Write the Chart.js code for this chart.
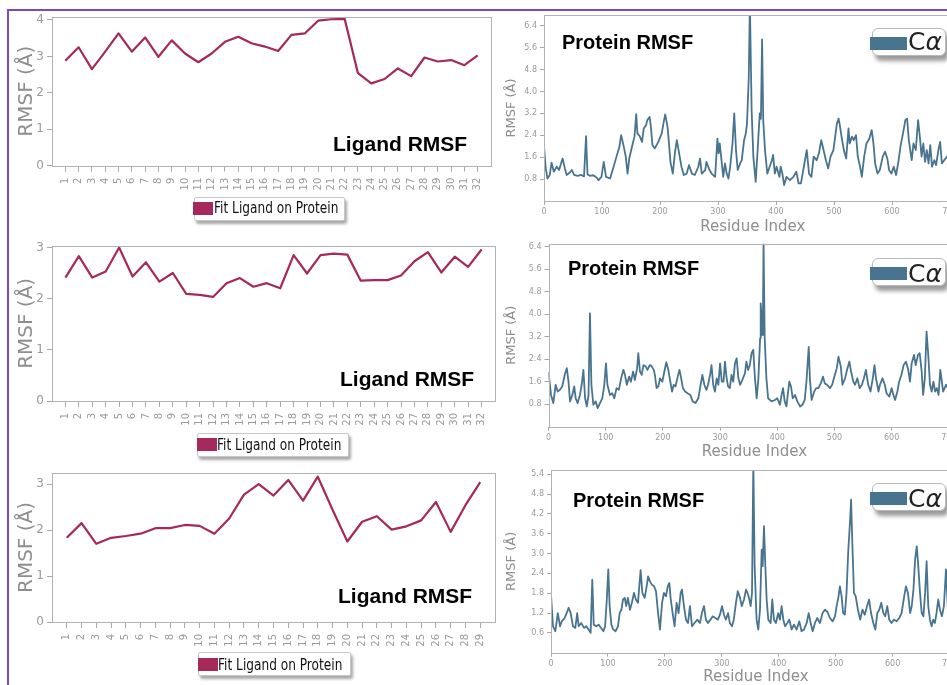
<!DOCTYPE html>
<html>
<head>
<meta charset="utf-8">
<script src="https://cdn.jsdelivr.net/npm/chart.js@4.4.1/dist/chart.umd.min.js"></script>
<style>
  html, body { margin: 0; padding: 0; background: #fff; }
  body { position: relative; width: 947px; height: 685px; overflow: hidden; font-family: "DejaVu Sans", sans-serif; }
  canvas { position: absolute; }
  .rule { position: absolute; background: #7d48c8; }
  .tag { position: absolute; font-family: "Liberation Sans", Arial, sans-serif; font-weight: bold; color: #000; white-space: nowrap; line-height: 1; }
  .ligBox { position: absolute; height: 22px; background: #fff; border: 1px solid #c8c8c8; border-radius: 2px; box-shadow: 2px 3px 3px rgba(0,0,0,0.35); }
  .ligSw { position: absolute; width: 20px; height: 13px; background: #a5295a; }
  .ligTx { position: absolute; font-size: 16px; line-height: 1; color: #111; white-space: nowrap; transform: scaleX(0.76); transform-origin: 0 0; }
  .caBox { position: absolute; width: 72px; height: 26px; background: #fff; border: 1px solid #b8b8b8; border-radius: 6px; box-shadow: 3px 5px 4px rgba(0,0,0,0.4); }
  .caSw { position: absolute; width: 37px; height: 13px; background: #48748f; }
  .caTx { position: absolute; font-size: 25px; line-height: 1; color: #222; white-space: nowrap; }
</style>
</head>
<body>
<div class="rule" style="left:7px;top:9px;width:940px;height:2px"></div>
<div class="rule" style="left:7px;top:9px;width:2px;height:676px"></div>

<canvas id="lig1"></canvas>
<canvas id="lig2"></canvas>
<canvas id="lig3"></canvas>
<canvas id="pro1"></canvas>
<canvas id="pro2"></canvas>
<canvas id="pro3"></canvas>

<div class="tag" style="left:333px;top:133px;font-size:21px">Ligand RMSF</div>
<div class="tag" style="left:340px;top:368px;font-size:21px">Ligand RMSF</div>
<div class="tag" style="left:338px;top:585px;font-size:21px">Ligand RMSF</div>
<div class="tag" style="left:562px;top:32px;font-size:20px">Protein RMSF</div>
<div class="tag" style="left:568px;top:258px;font-size:20px">Protein RMSF</div>
<div class="tag" style="left:573px;top:490px;font-size:20px">Protein RMSF</div>

<div class="ligBox" style="left:194px;top:197px;width:149px"></div>
<div class="ligSw" style="left:193px;top:202px"></div>
<div class="ligTx" style="left:214px;top:200px">Fit Ligand on Protein</div>
<div class="ligBox" style="left:197px;top:433px;width:150px"></div>
<div class="ligSw" style="left:197px;top:438px"></div>
<div class="ligTx" style="left:217px;top:437px">Fit Ligand on Protein</div>
<div class="ligBox" style="left:198px;top:652px;width:151px"></div>
<div class="ligSw" style="left:198px;top:658px"></div>
<div class="ligTx" style="left:218px;top:657px">Fit Ligand on Protein</div>

<div class="caBox" style="left:872px;top:28px"></div>
<div class="caSw" style="left:870px;top:37px"></div>
<div class="caTx" style="left:908px;top:29px">C<i>α</i></div>
<div class="caBox" style="left:872px;top:258px"></div>
<div class="caSw" style="left:870px;top:267px"></div>
<div class="caTx" style="left:908px;top:261px">C<i>α</i></div>
<div class="caBox" style="left:872px;top:483px"></div>
<div class="caSw" style="left:870px;top:492px"></div>
<div class="caTx" style="left:908px;top:486px">C<i>α</i></div>

<script>
// ---- Ligand RMSF per heavy atom ----
const ligandAtomsA = [1,2,3,4,5,6,7,8,9,10,11,12,13,14,15,16,17,18,19,20,21,22,23,24,25,26,27,28,29,30,31,32];
const ligandRmsfA = [2.88,3.25,2.65,3.13,3.63,3.13,3.52,2.99,3.44,3.08,2.84,3.08,3.40,3.54,3.36,3.27,3.15,3.59,3.63,3.98,4.02,4.03,2.54,2.26,2.38,2.67,2.46,2.97,2.86,2.90,2.76,3.03];

const ligandAtomsB = [1,2,3,4,5,6,7,8,9,10,11,12,13,14,15,16,17,18,19,20,21,22,23,24,25,26,27,28,29,30,31,32];
const ligandRmsfB = [2.42,2.84,2.42,2.54,3.01,2.44,2.72,2.34,2.51,2.10,2.08,2.04,2.31,2.41,2.24,2.31,2.21,2.86,2.50,2.86,2.89,2.87,2.36,2.37,2.37,2.46,2.74,2.92,2.52,2.83,2.63,2.97];

const ligandAtomsC = [1,2,3,4,5,6,7,8,9,10,11,12,13,14,15,16,17,18,19,20,21,22,23,24,25,26,27,28,29];
const ligandRmsfC = [1.83,2.15,1.70,1.83,1.87,1.92,2.04,2.04,2.11,2.09,1.92,2.25,2.77,3.00,2.75,3.09,2.64,3.16,2.44,1.75,2.18,2.30,2.01,2.08,2.21,2.61,1.96,2.54,3.04];

const ligandTicksYA = [0,1,2,3,4];
const ligandTicksYB = [0,1,2,3];
const ligandTicksYC = [0,1,2,3];

// ---- Protein C-alpha RMSF per residue ----
const residuesA = [0,3,6,10,13,17,22,26,32,36,39,45,48,52,58,64,69,72.5,75,79,85,91,94,99,103,107,114,120,125,130,133,137,141,144,147,153,156,159,161,165,169,172,176,178,182,184,187,191,197,203,207,209,213,215,218,222,226,229,232,237,241,246,250,255,260,266,269,272,278,280,285,289,295,299,301,303,306,309,312,315,318,321,325,328,331,334,338,341,345,348,350,353,355,358,361,365,369,372,374,376,378,381,385,389,393,395,398,401,406,408,411,414,418,424,430,435,439,443,448,453,457,461,465,470,474,478,482,486,490,494,499,505,508,510,513,517,521,525,527,531,534,538,541,545,548,552,556,561,565,568,571,575,579,584,588,592,595,599,603,607,611,615,619,623,626,629,634,637,641,645,648,651,654,657,660,663,666,669,673,676,680,683,686,690,695,700,706,712];
const rmsfA = [2.0,1.2,0.82,0.95,1.4,1.07,1.25,1.13,1.55,1.19,0.95,1.05,1.13,0.95,0.92,0.95,0.9,2.37,0.97,0.92,0.94,0.85,0.76,0.88,1.43,0.88,0.82,1.25,1.62,1.98,2.4,2.04,1.62,1.0,1.55,2.1,2.35,3.17,2.47,2.37,2.16,2.65,2.77,2.95,3.07,2.77,2.04,1.92,2.16,2.47,2.95,3.16,2.71,2.22,1.43,1.0,1.8,2.22,1.86,1.25,0.95,1.0,1.31,1.0,0.95,1.25,1.55,1.0,1.13,1.43,1.15,1.0,0.88,2.28,1.74,2.1,1.49,0.88,1.37,1.0,0.82,1.25,2.1,3.2,1.86,1.13,1.37,1.49,2.22,2.47,2.83,4.5,7.2,3.3,1.6,0.7,2.1,3.2,3.0,5.9,2.95,1.86,1.0,1.25,1.49,1.68,1.0,1.25,0.88,1.25,1.0,0.58,0.88,0.76,0.88,1.07,0.64,0.64,1.25,1.86,1.0,0.88,1.62,1.49,1.74,2.22,1.86,1.49,1.19,1.62,1.86,2.83,3.01,2.77,2.35,1.86,1.55,2.65,2.1,2.35,2.22,2.4,1.62,1.25,0.88,1.62,2.1,2.28,2.59,2.1,1.37,1.0,1.13,1.62,1.8,1.55,1.13,1.0,1.25,0.95,1.43,2.04,2.47,2.95,3.01,2.22,1.49,2.1,1.86,2.95,2.35,1.62,2.1,1.43,1.86,1.37,2.04,1.25,1.49,1.31,1.86,2.16,1.37,1.49,1.62,1.4,1.7,1.3];

const residuesB = [0,4.4,8.4,12.5,16,20,24,29,32,35,37.6,41.7,45,47.5,51,55,58,61,64,67,70,72.5,75,78.4,82.5,86,90,94,97.6,100.5,103,107.5,111.5,115,119,123,127,131,133.7,137,141,144,148,151,155,157,160,163,166,170,173,177,180,184,186,189,192,195,199,202.6,206,209.5,213,216,219,222,226,229,232,235,239,243,248,252,257,262,266,269,272.5,276,279,283,285,288,291,294,297,300,303,306,308.5,311.5,314,317,320,323,326,329,332,335,340,343.5,346,349,352,355,358,361,364,367,370,371,373,374,375,376,378,381,384,390,396,400,404.6,407.6,410,413,416,421,424,427,431,435,440,444,448,451,455,457,460,464.6,468,472,476,480,483,487,492,496,499,504,507,511,514,518.5,522,526,529,533,536,540,544,548,551.5,555,559,563,567,570,572.6,577,579.5,584,588,591,596,600,603,606,610,613,617,621,625,629,632,635,639,642,646,649,652.5,655,658,661,664,667,670,673,676,679,682,685,687,690,695,700,706,712];
const rmsfB = [1.95,1.13,0.84,1.49,1.25,1.31,1.43,1.9,2.08,1.6,0.9,1.13,1.43,1.01,0.84,1.13,1.49,2.02,1.01,0.72,1.13,4.03,1.49,0.78,0.9,0.66,0.84,1.01,1.49,2.25,1.49,1.13,1.19,1.01,1.37,1.31,1.72,2.02,1.84,1.49,1.78,1.6,1.96,1.66,2.08,2.61,1.96,1.84,2.19,2.14,2.02,2.19,2.16,2.02,1.84,1.37,1.43,1.72,1.6,1.96,2.29,2.02,1.6,1.25,1.49,1.43,1.78,2.02,1.72,1.37,1.25,1.19,1.13,0.9,0.84,1.01,1.49,1.84,1.49,1.31,1.49,1.9,2.19,1.49,1.25,1.72,1.49,2.25,1.6,1.6,2.31,1.72,1.43,1.37,1.84,1.6,2.25,2.43,1.72,1.49,1.72,1.9,2.31,2.02,2.19,2.61,2.73,1.72,1.01,1.72,3.14,4.38,3.73,3.26,3.97,6.6,3.14,1.72,1.01,0.9,0.95,1.01,0.78,1.13,1.37,0.9,0.72,1.6,1.43,1.01,1.13,0.9,0.72,0.78,0.95,1.6,2.84,1.72,0.95,1.25,1.37,1.37,1.54,1.78,1.54,1.49,1.37,1.49,1.72,2.08,2.49,2.14,1.49,1.72,2.02,2.31,1.96,1.6,1.49,1.72,1.37,1.49,1.72,2.02,1.49,1.25,1.72,2.19,1.72,1.25,1.49,1.72,1.49,1.19,1.07,1.37,1.13,0.95,1.25,1.6,1.84,2.19,2.31,2.02,1.6,2.25,2.55,2.19,2.55,2.61,1.96,1.13,1.72,3.38,2.55,1.49,1.25,1.6,1.25,1.37,1.13,2.02,1.72,1.25,1.49,1.3,1.6,1.2];

const residuesC = [0,3.5,7.6,12,15.8,19,24,27.5,31,34.5,38.6,42.7,46,48.6,53,58,62,66,69.6,72.5,75,79.6,83.6,88,92,95,98,100.6,103,106,109.4,113.5,117.6,120.6,123.6,126.5,129.5,132,135,138.7,142,145.7,149,152.7,157.4,160.4,164.5,168,170.5,173.8,177,181,184.4,188,191.4,195,198.4,202,205,207.8,210,213.6,217,220.6,224,227.7,230,233.5,237,240.6,244,247.6,252,257,261.6,265,268.7,272,275.6,280,284,288.6,293,296.7,300.3,303.8,307,311,314,317.8,321,324.8,328,332,335,339,342.4,345,347.7,350.6,353,355.3,357.6,361,364,367,370,371.7,374,376.4,378.7,381.6,385.7,388.6,391.5,395,399,402,405,408,411,415,418.5,422.6,426.7,431.4,436,440,444.2,449,452.5,456,459.5,463.5,467.6,472.3,477,481,485,489.9,494.6,498.7,501.6,504.5,507.4,510.3,513,516,519,522,525,527,529,532,535,539,543,547,551,555,558.6,562,566,569.5,573,576.5,580,583.6,587,590.5,594,598,602,607,611.5,615.7,619.8,623.3,626.8,630.7,633.5,636.5,639.4,642.3,644.6,648,651,654,657,659.6,662.5,665.5,668.4,671.3,674.2,677,680,683,686.5,690,693.6,697,703,710];
const rmsfC = [1.75,0.8,0.65,1.2,0.8,0.95,1.05,1.2,1.36,1.2,0.8,0.75,1.2,0.8,0.9,0.75,0.8,0.7,0.6,2.21,0.85,0.8,0.85,0.75,0.65,0.8,1.61,2.52,1.41,0.85,0.7,0.65,0.8,1.2,1.3,1.61,1.66,1.41,1.66,1.3,1.51,1.81,1.61,1.51,2.5,1.81,1.66,2.01,2.31,2.16,2.06,2.01,1.86,1.2,0.7,1.51,1.81,1.71,2.01,2.11,1.66,1.2,0.8,1.51,1.2,1.81,1.91,1.41,1.0,0.9,1.41,0.8,0.9,1.0,0.9,1.2,1.41,1.0,0.9,1.0,1.1,1.05,1.0,1.15,1.41,1.15,1.0,1.2,0.9,0.8,1.0,1.51,1.86,1.66,1.41,1.61,1.91,1.81,1.66,1.41,1.81,5.8,2.62,1.0,0.7,1.3,3.12,2.62,3.83,2.62,1.61,1.0,0.9,1.61,1.0,0.9,1.2,1.0,1.41,1.0,0.8,0.9,1.0,0.7,0.85,0.7,0.95,0.65,0.7,0.9,1.2,0.9,0.65,0.9,1.05,0.9,1.2,1.3,1.25,1.05,0.95,1.1,1.41,1.66,2.01,1.71,1.2,1.15,1.81,3.07,3.93,4.63,3.42,1.81,1.71,1.3,1.0,1.3,1.15,1.41,1.61,1.2,0.9,0.7,1.2,1.3,1.51,1.2,1.1,1.41,1.0,0.9,1.0,0.95,1.05,1.2,1.66,2.01,1.81,1.2,1.41,1.91,2.82,3.22,2.72,1.81,1.2,1.1,1.81,2.77,1.41,1.0,0.8,1.0,0.9,1.2,1.61,1.3,1.1,1.41,2.52,1.3,1.0,1.2];

const residueTicks = [0,100,200,300,400,500,600,700];
const proteinTicksYA = [0.8,1.6,2.4,3.2,4.0,4.8,5.6,6.4];
const proteinTicksYB = [0.8,1.6,2.4,3.2,4.0,4.8,5.6,6.4];
const proteinTicksYC = [0.6,1.2,1.8,2.4,3.0,3.6,4.2,4.8,5.4];

const ligandColor = '#a5295a';
const proteinColor = '#48748f';

Chart.defaults.font.family = "'DejaVu Sans', sans-serif";

// grey box around each plotting area
const frameBox = {
  id: 'frameBox',
  afterDatasetsDraw(chart) {
    const { ctx, chartArea: a } = chart;
    ctx.save();
    ctx.strokeStyle = '#b3b3b3';
    ctx.lineWidth = 1;
    ctx.strokeRect(Math.round(a.left) + 0.5, Math.round(a.top) + 0.5,
                   Math.round(a.right - a.left), Math.round(a.bottom - a.top));
    ctx.restore();
  }
};

function drawPanel(id, rect, area, cfg) {
  const cv = document.getElementById(id);
  cv.width = rect.w; cv.height = rect.h;
  cv.style.left = rect.x + 'px'; cv.style.top = rect.y + 'px';
  cv.style.width = rect.w + 'px'; cv.style.height = rect.h + 'px';
  const points = cfg.xs.map((x, i) => ({ x: x, y: cfg.ys[i] }));
  return new Chart(cv, {
    type: 'line',
    data: { datasets: [{
      label: cfg.label, data: points, borderColor: cfg.color, borderWidth: cfg.lineWidth,
      pointRadius: 0, fill: false, tension: 0, borderJoinStyle: 'round'
    }] },
    options: {
      responsive: false, animation: false, events: [],
      layout: { padding: { left: 0, top: area.t - rect.y, right: rect.x + rect.w - area.r, bottom: 0 } },
      plugins: { legend: { display: false }, tooltip: { enabled: false } },
      scales: {
        x: {
          type: 'linear', min: cfg.xMin, max: cfg.xMax,
          afterFit(s) { s.height = rect.y + rect.h - area.b; },
          afterBuildTicks(s) { s.ticks = cfg.xTicks.map(v => ({ value: v })); },
          border: { display: false },
          grid: { drawOnChartArea: false, drawTicks: true, tickLength: cfg.xTickLen, color: '#a8a8a8' },
          ticks: {
            autoSkip: false, color: '#9a9a9a', padding: cfg.xTickPad,
            minRotation: cfg.xRot, maxRotation: cfg.xRot,
            font: { size: cfg.xTickSize },
            callback: v => String(v)
          },
          title: cfg.xTitle ? {
            display: true, text: cfg.xTitle, color: '#8e8e8e',
            font: { size: 15 }, padding: { top: 0, bottom: 1.3 }
          } : { display: false }
        },
        y: {
          type: 'linear', min: 0, max: cfg.yMax,
          afterFit(s) { s.width = area.l - rect.x; },
          afterBuildTicks(s) { s.ticks = cfg.yTicks.map(v => ({ value: v })); },
          border: { display: false },
          grid: { drawOnChartArea: false, drawTicks: true, tickLength: cfg.yTickLen, color: '#a8a8a8' },
          ticks: {
            color: '#9a9a9a', padding: 3, font: { size: cfg.yTickSize },
            callback: v => cfg.yDecimals ? v.toFixed(1) : String(v)
          },
          title: {
            display: true, text: 'RMSF (Å)', color: '#8e8e8e',
            font: { size: cfg.yTitleSize }, padding: { top: cfg.yTitlePad, bottom: 0 }
          }
        }
      }
    },
    plugins: [frameBox]
  });
}

function ligandPanel(id, rect, area, atoms, values, yTicks, yMax) {
  drawPanel(id, rect, area, {
    label: 'Fit Ligand on Protein', xs: atoms, ys: values, color: ligandColor, lineWidth: 2.2,
    xMin: 0, xMax: atoms.length + 1, xTicks: atoms, xRot: 90, xTickLen: 6, xTickPad: 6, xTickSize: 10,
    yMax: yMax, yTicks: yTicks, yTickLen: 5, yTickSize: 12, yDecimals: false,
    yTitleSize: 20, yTitlePad: 15
  });
}

function proteinPanel(id, rect, area, residues, values, yTicks, yMax) {
  drawPanel(id, rect, area, {
    label: 'Cα', xs: residues, ys: values, color: proteinColor, lineWidth: 1.8,
    xMin: 0, xMax: 720, xTicks: residueTicks, xRot: 0, xTickLen: 4, xTickPad: 2, xTickSize: 8,
    xTitle: 'Residue Index',
    yMax: yMax, yTicks: yTicks, yTickLen: 4, yTickSize: 8, yDecimals: true,
    yTitleSize: 13, yTitlePad: 3.9
  });
}

ligandPanel('lig1', { x: 0, y: 0, w: 500, h: 230 }, { l: 52, t: 16.7, r: 491, b: 165.7 },
  ligandAtomsA, ligandRmsfA, ligandTicksYA, 4.09);
ligandPanel('lig2', { x: 0, y: 228, w: 500, h: 232 }, { l: 52, t: 245.7, r: 495, b: 401 },
  ligandAtomsB, ligandRmsfB, ligandTicksYB, 3.045);
ligandPanel('lig3', { x: 0, y: 458, w: 500, h: 227 }, { l: 52, t: 473, r: 495, b: 622 },
  ligandAtomsC, ligandRmsfC, ligandTicksYC, 3.24);

proteinPanel('pro1', { x: 500, y: 0, w: 480, h: 237 }, { l: 544, t: 15, r: 961.6, b: 201 },
  residuesA, rmsfA, proteinTicksYA, 6.79);
proteinPanel('pro2', { x: 500, y: 236, w: 480, h: 226 }, { l: 548.5, t: 243.3, r: 960.3, b: 426.7 },
  residuesB, rmsfB, proteinTicksYB, 6.5);
proteinPanel('pro3', { x: 500, y: 460, w: 480, h: 227 }, { l: 551, t: 470, r: 961, b: 652.7 },
  residuesC, rmsfC, proteinTicksYC, 5.53);
</script>
</body>
</html>
